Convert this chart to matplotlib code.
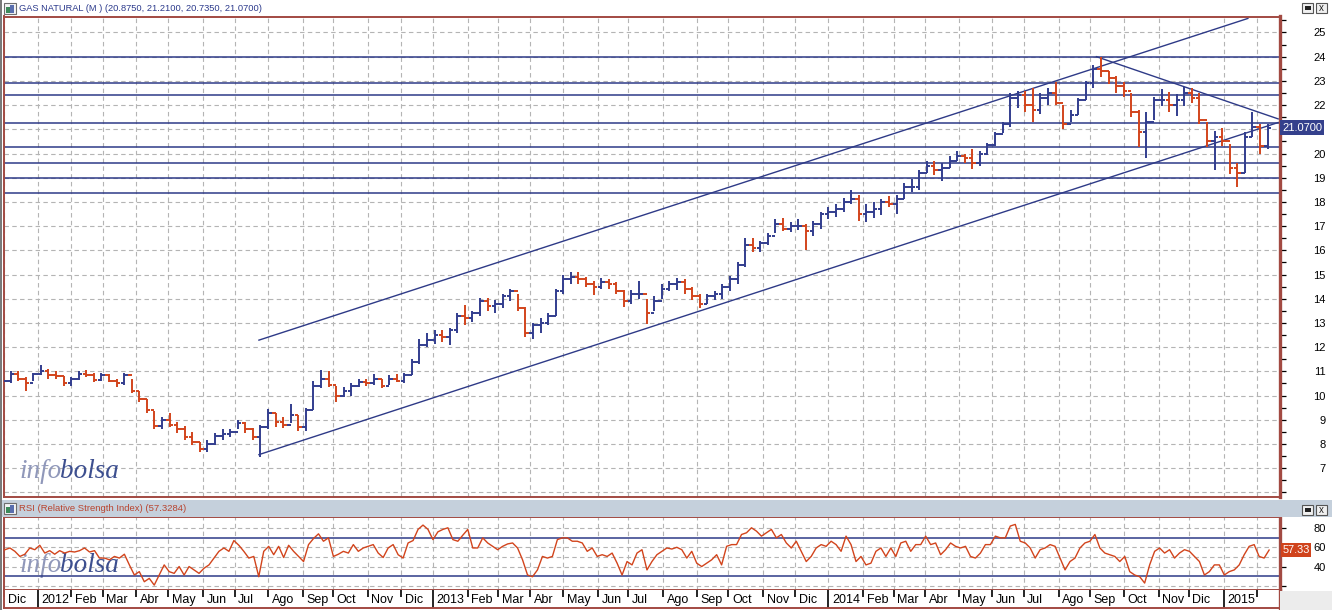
import numpy as np
import pandas as pd
import matplotlib
matplotlib.use("Agg")
import matplotlib.pyplot as plt
from matplotlib.collections import LineCollection
from matplotlib.patches import Rectangle
from matplotlib.transforms import IdentityTransform, blended_transform_factory

# ------------------------------------------------------------------ data
start_day = "2011-12-01"
week_dates = pd.date_range("2011-11-30", periods=168, freq="W-WED")

highs = [10.75, 11.0, 11.0, 10.75, 10.95, 11.25, 11.1, 11.0, 10.8, 10.75,
         11.0, 11.05, 10.95, 10.95, 10.9, 10.7, 10.95, 10.7, 10.2, 9.85,
         9.35, 9.1, 9.3, 8.9, 8.75, 8.5, 8.1, 8.15, 8.45, 8.6,
         8.6, 9.0, 8.9, 8.65, 8.8, 9.45, 9.3, 9.1, 9.65, 9.2,
         9.5, 10.6, 11.05, 11.0, 10.4, 10.35, 10.5, 10.7, 10.7, 10.9,
         10.7, 10.85, 10.9, 10.95, 11.5, 12.35, 12.6, 12.7, 12.7, 12.8,
         13.4, 13.75, 13.5, 14.05, 14.05, 13.95, 14.2, 14.4, 14.2, 13.65,
         13.0, 13.2, 13.4, 14.4, 15.0, 15.1, 15.1, 14.9, 14.75, 14.85,
         14.8, 14.7, 14.35, 14.35, 14.75, 14.0, 14.1, 14.6, 14.75, 14.85,
         14.8, 14.5, 14.2, 14.2, 14.3, 14.6, 14.95, 15.5, 16.5, 16.5,
         16.4, 16.7, 17.3, 17.35, 17.15, 17.3, 17.1, 17.2, 17.6, 17.8,
         17.92, 18.15, 18.5, 18.3, 17.9, 17.99, 18.1, 18.26, 18.3, 18.8,
         18.95, 19.3, 19.7, 19.7, 19.6, 19.9, 20.12, 20.0, 20.2, 20.1,
         20.45, 20.9, 21.3, 22.5, 22.6, 22.6, 22.7, 22.5, 22.7, 22.95,
         22.0, 21.8, 22.3, 23.0, 23.64, 24.0, 23.4, 23.22, 22.95, 22.5,
         21.8, 21.7, 22.33, 22.67, 22.54, 22.47, 22.74, 22.7, 22.5, 21.3,
         20.95, 21.05, 20.4, 19.6, 20.9, 21.71, 21.2, 21.21]
lows = [10.2, 10.5, 10.6, 10.2, 10.6, 10.85, 10.7, 10.7, 10.4, 10.4,
        10.65, 10.75, 10.55, 10.6, 10.55, 10.35, 10.45, 10.1, 9.75, 9.3,
        8.6, 8.6, 8.7, 8.45, 8.15, 7.95, 7.65, 7.65, 7.95, 8.15,
        8.3, 8.6, 8.45, 8.15, 7.45, 8.6, 8.7, 8.65, 8.85, 8.55,
        8.55, 9.4, 10.3, 10.35, 9.75, 9.95, 10.0, 10.35, 10.4, 10.45,
        10.3, 10.45, 10.55, 10.5, 10.85, 11.3, 12.0, 12.15, 12.2, 12.1,
        12.6, 12.9, 13.05, 13.3, 13.5, 13.4, 13.6, 13.9, 13.5, 12.4,
        12.35, 12.6, 12.9, 13.3, 14.2, 14.6, 14.6, 14.5, 14.15, 14.4,
        14.4, 14.2, 13.65, 13.8, 14.0, 12.95, 13.5, 14.0, 14.3, 14.35,
        14.2, 13.95, 13.6, 13.8, 13.95, 14.0, 14.3, 14.6, 15.3, 15.95,
        15.95, 16.2, 16.7, 16.8, 16.75, 16.85, 16.0, 16.6, 16.9, 17.3,
        17.37, 17.6, 17.9, 17.2, 17.15, 17.35, 17.44, 17.78, 17.5, 18.1,
        18.4, 18.5, 19.2, 19.1, 18.88, 19.4, 19.7, 19.6, 19.37, 19.5,
        19.95, 20.3, 20.85, 21.1, 21.9, 21.7, 21.3, 21.64, 22.0, 22.0,
        21.0, 21.3, 21.6, 22.2, 22.7, 23.15, 22.88, 22.5, 22.33, 21.5,
        20.26, 19.8, 21.4, 21.95, 21.7, 21.57, 21.98, 22.1, 21.2, 20.26,
        19.3, 20.33, 19.16, 18.6, 19.2, 20.7, 19.98, 20.19]
closes = [10.6, 10.9, 10.7, 10.5, 10.9, 11.0, 10.85, 10.8, 10.5, 10.7,
          10.9, 10.85, 10.65, 10.85, 10.6, 10.5, 10.85, 10.2, 9.85, 9.4,
          8.75, 9.0, 8.8, 8.6, 8.3, 8.1, 7.8, 8.0, 8.35, 8.4,
          8.5, 8.85, 8.6, 8.3, 8.7, 9.3, 8.9, 8.8, 9.2, 8.7,
          9.4, 10.4, 10.7, 10.45, 10.0, 10.2, 10.4, 10.55, 10.5, 10.7,
          10.4, 10.7, 10.6, 10.85, 11.4, 12.1, 12.3, 12.5, 12.4, 12.7,
          13.3, 13.2, 13.4, 13.9, 13.7, 13.8, 14.1, 14.3, 13.6, 12.6,
          12.9, 13.0, 13.3, 14.3, 14.8, 14.9, 14.8, 14.6, 14.5, 14.7,
          14.6, 14.3, 13.9, 14.2, 14.2, 13.4, 13.9, 14.4, 14.6, 14.7,
          14.4, 14.1, 13.8, 14.1, 14.2, 14.5, 14.8, 15.4, 16.2, 16.1,
          16.3, 16.6, 17.1, 16.9, 17.0, 17.0, 16.8, 17.1, 17.5, 17.6,
          17.7, 18.0, 18.1, 17.5, 17.6, 17.7, 18.0, 17.9, 18.1, 18.6,
          18.6, 19.2, 19.5, 19.3, 19.4, 19.7, 19.9, 19.8, 19.6, 20.0,
          20.35, 20.8, 21.2, 22.3, 22.4, 22.0, 21.8, 22.3, 22.5, 22.1,
          21.2, 21.6, 22.2, 22.9, 23.5, 23.4, 23.1, 22.8, 22.6, 21.7,
          20.9, 21.3, 22.2, 22.2, 22.0, 22.2, 22.5, 22.3, 21.4, 20.5,
          20.7, 20.5, 19.4, 19.2, 20.7, 21.1, 20.3, 21.07]
first_open = 10.5

levels = [24.0, 22.92, 22.43, 21.26, 20.28, 19.62, 18.97, 18.38]
trend_start_dates = ["2012-07-24", "2012-07-24", "2014-09-05"]
trend_start_prices = [12.29, 7.56, 24.0]
trend_end_dates = ["2015-01-23", "2015-02-20", "2015-02-20"]
trend_end_prices = [25.58, 21.28, 21.43]

rsi_values = [
    54.2, 57.7, 59.5, 56, 50.7, 53, 59.5, 57.7, 62.3, 54.2,
    56.7, 53, 56.7, 54.2, 56, 55.3, 56.7, 59.5, 55.3, 56.7,
    49, 49, 47.2, 50.7, 49, 53, 41.9, 31.4, 34.9, 24.4,
    27.9, 20.9, 31.4, 41.9, 34.9, 33.1, 40.2, 31.4, 40.2, 36.7,
    33.1, 38.4, 41.9, 49, 56, 59.5, 56, 67.2, 62.3, 56,
    49, 50.7, 29.6, 56, 61.2, 52.5, 61.2, 49.6, 62.3, 56,
    50.7, 45.4, 63, 69.3, 74.2, 66.5, 70, 50.7, 53, 56,
    54.2, 63, 56, 59.5, 61.2, 63, 54.2, 49.6, 59.5, 63,
    52.5, 49, 64.7, 67.2, 78.8, 83.3, 78.8, 68.2, 76.3,
    78.8, 80.5, 68.2, 66.5, 72.8, 78.8, 59.5, 59.5, 70, 64.7,
    61.2, 57.7, 61.2, 63.7, 64.7, 59.5, 47.2, 31.4, 29.6, 36.7,
    50.7, 49, 50.7, 68.2, 70, 70, 66.5, 66.5, 64.7, 56,
    59.5, 50.7, 52.5, 50.7, 54.2, 43.7, 31.4, 45.4, 41.9, 54.2,
    57.7, 36.7, 45.4, 52.5, 56, 59.5, 58.4, 60.2, 57.7, 49,
    56, 43.7, 40.2, 43.7, 47.2, 52.5, 41.9, 61.2, 63, 63,
    73.5, 75.3, 80.5, 77, 71.8, 75.3, 78.8, 70, 73.5, 64.7,
    59.5, 66.5, 56, 45.4, 50.7, 59.5, 63, 61.2, 66.5, 63,
    56, 71.8, 63, 45.4, 50.7, 41.9,
    43.7, 56, 59.5, 50.7, 59.5, 50.7, 64.7, 66.5, 56, 63,
    63, 71.8, 63, 64.7, 52.5, 57.7, 64.7, 61.2, 59.5, 61.2,
    50.7, 49, 54.2, 63, 63, 71.8, 70, 70, 82.3, 84,
    66.5, 64.7, 59.5, 49, 57.7, 59.5, 63, 61.2, 49, 36.7,
    45.4, 49, 59.5, 64.7, 66.5, 73.5, 59.5, 54.2, 52.5, 50.7,
    45.4, 50.7, 34.9, 31.4, 29.6, 23.0, 41.9, 56, 59.5, 54.2,
    57.7, 49, 54.2, 57.7, 56, 50.7, 45.4, 31.4, 34.9, 41.9,
    41.9, 31.4, 34.9, 36.7, 41.9, 52.5, 61.2, 63, 50.7, 49,
    57.33]
rsi_first_date = "2011-11-28"
rsi_last_date = "2015-02-12"

month_abbr = ["Ene", "Feb", "Mar", "Abr", "May", "Jun", "Jul", "Ago",
              "Sep", "Oct", "Nov", "Dic"]
month_starts = pd.date_range("2011-12-01", "2015-02-01", freq="MS")

title_text = "GAS NATURAL (M ) (20.8750, 21.2100, 20.7350, 21.0700)"
rsi_title = "RSI (Relative Strength Index) (57.3284)"
last_price = 21.07
last_rsi = 57.33

# ------------------------------------------------------------------ style
W, H = 1332, 610
BLUE = "#323d8e"
RED = "#d2441c"
LINE = "#2e3a87"
FRAME = "#a24a42"
GRID = "#b4b4b4"
FONT = "Liberation Sans"

def bday(d):
    return np.busday_count(start_day, np.array(d, dtype="datetime64[D]"))

fig = plt.figure(figsize=(W / 100, H / 100), dpi=100)
fig.patch.set_facecolor("white")

def add_ax(x0, y0, x1, y1):
    return fig.add_axes([x0 / W, 1 - y1 / H, (x1 - x0) / W, (y1 - y0) / H])

XL = (-0.66, 842.2)
mpos = bday(month_starts.values.astype("datetime64[D]"))

ax = add_ax(3.5, 16.5, 1280, 496.5)
axr = add_ax(3.5, 517, 1280, 590)
axx = add_ax(3.5, 590, 1280, 608)

for a in (ax, axr, axx):
    a.set_xlim(*XL)
    a.set_facecolor("white")
    for s in a.spines.values():
        s.set_color(FRAME)
        s.set_linewidth(1.4)
    a.spines["right"].set_linewidth(2.4)
    a.tick_params(axis="x", which="both", bottom=False, labelbottom=False)

# ---------------- price panel
ax.set_ylim(5.83, 25.66)
for p in range(6, 26):
    ax.axhline(p, color=GRID, lw=0.8, ls=(0, (4, 3)), zorder=0)
for m in mpos:
    ax.axvline(m, color=GRID, lw=0.8, ls=(0, (4, 3)), zorder=0)

xs = bday(week_dates.values.astype("datetime64[D]"))
H_ = np.array(highs); L_ = np.array(lows); C_ = np.array(closes)
O_ = np.r_[first_open, C_[:-1]]
tw = 2.4
segs, cols = [], []
for x, o, h, l, c in zip(xs, O_, H_, L_, C_):
    col = BLUE if c >= o else RED
    segs += [[(x, l), (x, h)], [(x - tw, o), (x, o)], [(x, c), (x + tw, c)]]
    cols += [col] * 3
ax.add_collection(LineCollection(segs, colors=cols, linewidths=1.4, zorder=3))

for lv in levels:
    ax.axhline(lv, color=LINE, lw=1.1, zorder=2)
for d1, p1, d2, p2 in zip(trend_start_dates, trend_start_prices,
                          trend_end_dates, trend_end_prices):
    ax.plot([bday(d1), bday(d2)], [p1, p2], color=LINE, lw=1.0, zorder=2)

ax.yaxis.tick_right()
ax.set_yticks(np.arange(6, 26, 1))
ax.set_yticks(np.arange(6, 26, 0.5), minor=True)
ax.set_yticklabels(["" if v in (6, 21) else str(v) for v in range(6, 26)])
ax.tick_params(axis="y", which="both", direction="out", length=4.5, width=0.9,
               colors="black", labelsize=8, pad=28.5)
for t in ax.get_yticklabels():
    t.set_horizontalalignment("right")
    t.set_fontfamily(FONT)

btr = blended_transform_factory(ax.transAxes, ax.transData)
ax.text(1.0017, last_price, "21.0700", transform=btr, color="white",
        fontsize=8, family=FONT, ha="left", va="center", clip_on=False,
        bbox=dict(boxstyle="square,pad=0.2", fc="#34408c", ec="none"), zorder=10)

# ---------------- RSI panel
axr.set_ylim(15.8, 91.7)
for v in (20, 40, 50, 60, 80):
    axr.axhline(v, color=GRID, lw=0.8, ls=(0, (4, 3)), zorder=0)
for m in mpos:
    axr.axvline(m, color=GRID, lw=0.8, ls=(0, (4, 3)), zorder=0)
for v in (70, 30):
    axr.axhline(v, color=LINE, lw=1.1, zorder=2)
rx = np.linspace(bday(rsi_first_date), bday(rsi_last_date), len(rsi_values))
axr.plot(rx, rsi_values, color=RED, lw=1.0, zorder=3)
axr.yaxis.tick_right()
axr.set_yticks([20, 40, 60, 80])
axr.set_yticklabels(["", "40", "60", "80"])
axr.tick_params(axis="y", direction="out", length=4.5, width=0.9,
                colors="black", labelsize=8, pad=28.5)
for t in axr.get_yticklabels():
    t.set_horizontalalignment("right")
    t.set_fontfamily(FONT)
btr2 = blended_transform_factory(axr.transAxes, axr.transData)
axr.text(1.0017, last_rsi, "57.33", transform=btr2, color="white",
         fontsize=7.8, family=FONT, ha="left", va="center", clip_on=False,
         bbox=dict(boxstyle="square,pad=0.15", fc="#d0431c", ec="none"), zorder=10)

# ---------------- x label row
axx.set_ylim(0, 1)
axx.set_yticks([])
axx.spines["top"].set_visible(False)
for d, m in zip(month_starts, mpos):
    is_year = d.month == 1
    axx.plot([m, m], [0 if is_year else 0.62, 1], color="black", lw=1.2,
             solid_capstyle="butt", clip_on=False)
    if d.year == 2015 and d.month == 2:
        continue
    lab = str(d.year) if is_year else month_abbr[d.month - 1]
    axx.annotate(lab, (m, 0.45), xytext=(2.5, 0), textcoords="offset points",
                 ha="left", va="center", fontsize=9, family=FONT, color="black")

# ---------------- decorations (title bars, frame, watermark)
def frect(x0, y0, x1, y1, **kw):
    fig.patches.append(Rectangle((x0 / W, 1 - y1 / H), (x1 - x0) / W, (y1 - y0) / H,
                                 transform=fig.transFigure, **kw))

frect(0, 499.5, W, 516.5, fc="#c5d0dc", ec="none", zorder=0)
frect(1280, 591, W, H, fc="#ececec", ec="none", zorder=0)
frect(0, 0, 1.6, H, fc="#7a7a7a", ec="none", zorder=5)

for yt in (3, 503):
    frect(4, yt, 16, yt + 11, fc="#f4f4f4", ec="#6e6e6e", lw=0.8, zorder=6)
    frect(6, yt + 4, 10, yt + 10, fc="#3b8a5a", ec="none", zorder=7)
    frect(10, yt + 2, 14, yt + 10, fc="#5a6fae", ec="none", zorder=7)
for yt in (3, 505):
    frect(1302, yt, 1313, yt + 10, fc="#f0f0f0", ec="#555555", lw=0.8, zorder=6)
    frect(1304.5, yt + 3, 1310.5, yt + 7, fc="#222222", ec="none", zorder=7)
    frect(1316, yt, 1327, yt + 10, fc="#f0f0f0", ec="#555555", lw=0.8, zorder=6)
    fig.text(1321.5 / W, 1 - (yt + 5) / H, "x", fontsize=7, family=FONT,
             ha="center", va="center", color="#222222", zorder=8)

fig.text(19 / W, 1 - 8.5 / H, title_text, fontsize=6.7, family=FONT,
         color="#2c3a8c", ha="left", va="center")
fig.text(19 / W, 1 - 508.5 / H, rsi_title, fontsize=6.8, family=FONT,
         color="#b8442f", ha="left", va="center")

renderer = fig.canvas.get_renderer()
for a, base in ((ax, 478), (axr, 572)):
    t1 = a.text(19, H - base, "info", transform=IdentityTransform(),
                fontsize=19.5, family="Liberation Serif", style="italic",
                color="#9098ba", ha="left", va="baseline", zorder=1.5)
    bb = t1.get_window_extent(renderer)
    a.text(bb.x1 - 1, H - base, "bolsa", transform=IdentityTransform(),
           fontsize=19.5, family="Liberation Serif", style="italic",
           color="#3d4f8f", ha="left", va="baseline", zorder=1.5)

fig.savefig("out.png", dpi=100, facecolor="white")
